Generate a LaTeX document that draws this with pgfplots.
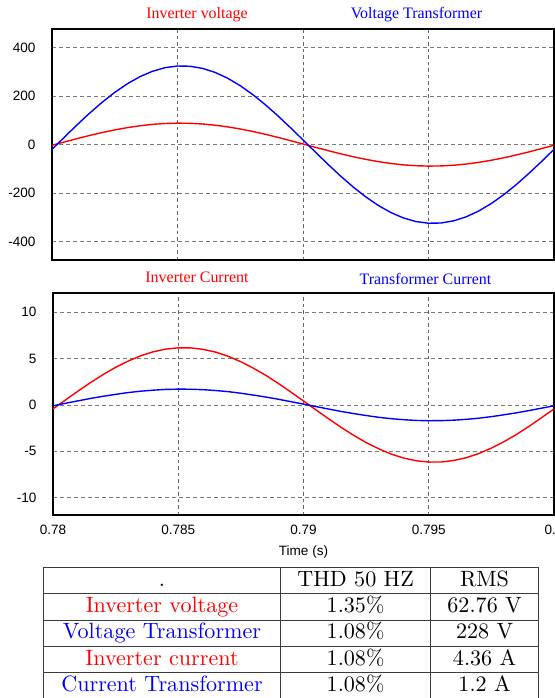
\documentclass[border=0pt]{standalone}
\usepackage{fontspec}
\usepackage{pgfplots}
\usepackage{pgfplotstable}
\pgfplotsset{compat=1.18}

\newfontfamily\arialfont{Liberation Sans}
\newfontfamily\timesfont{Liberation Serif}
\newfontfamily\cmten{lmroman10-regular.otf}

\definecolor{wred}{RGB}{255,0,0}
\definecolor{wblue}{RGB}{0,0,255}
\definecolor{gridgray}{RGB}{120,120,120}
\definecolor{rulegray}{RGB}{60,60,60}

% one period of the 50 Hz waveforms, sampled every 0.5 ms
% t: time (s), vinv/vtr: voltages (V), iinv/itr: currents (A)
\pgfplotstableread{
t       vinv    vtr     iinv    itr
0.7800  -2.7    -19.5   -0.43   -0.09
0.7805  11.2    31.5    0.54    0.18
0.7810  24.8    81.9    1.49    0.44
0.7815  37.9    130.2   2.41    0.70
0.7820  50.0    175.2   3.27    0.93
0.7825  60.9    216.0   4.05    1.14
0.7830  70.2    251.4   4.72    1.33
0.7835  77.9    280.7   5.29    1.48
0.7840  83.7    303.1   5.72    1.59
0.7845  87.3    318.0   6.01    1.67
0.7850  88.8    325.0   6.15    1.70
0.7855  88.1    324.0   6.14    1.69
0.7860  85.3    315.1   5.98    1.64
0.7865  80.3    298.5   5.68    1.55
0.7870  73.4    274.4   5.23    1.43
0.7875  64.7    243.6   4.65    1.26
0.7880  54.4    206.8   3.96    1.06
0.7885  42.7    165.0   3.18    0.85
0.7890  30.0    118.9   2.31    0.61
0.7895  16.4    70.1    1.38    0.35
0.7900  2.7     19.5    0.43    0.09
0.7905  -11.2   -31.5   -0.54   -0.18
0.7910  -24.8   -81.9   -1.49   -0.44
0.7915  -37.9   -130.2  -2.41   -0.70
0.7920  -50.0   -175.2  -3.27   -0.93
0.7925  -60.9   -216.0  -4.05   -1.14
0.7930  -70.2   -251.4  -4.72   -1.33
0.7935  -77.9   -280.7  -5.29   -1.48
0.7940  -83.7   -303.1  -5.72   -1.59
0.7945  -87.3   -318.0  -6.01   -1.67
0.7950  -88.8   -325.0  -6.15   -1.70
0.7955  -88.1   -324.0  -6.14   -1.69
0.7960  -85.3   -315.1  -5.98   -1.64
0.7965  -80.3   -298.5  -5.68   -1.55
0.7970  -73.4   -274.4  -5.23   -1.43
0.7975  -64.7   -243.6  -4.65   -1.26
0.7980  -54.4   -206.8  -3.96   -1.06
0.7985  -42.7   -165.0  -3.18   -0.85
0.7990  -30.0   -118.9  -2.31   -0.61
0.7995  -16.4   -70.1   -1.38   -0.35
0.8000  -2.7    -19.5   -0.43   -0.09
}\waves

\pgfplotsset{
  scope panel/.style={
    scale only axis,
    anchor=north west,
    width=502bp,
    xmin=0.78, xmax=0.8,
    xtick={0.78,0.785,0.79,0.795,0.8},
    xmajorgrids, ymajorgrids,
    x grid style={gridgray!85!black, line width=0.8bp, dash pattern=on 3.5bp off 3bp},
    y grid style={gridgray, line width=0.8bp, dash pattern=on 4bp off 3bp},
    major tick length=0pt,
    axis line style={black, line width=1.3bp},
    /pgf/number format/assume math mode=true,
    ticklabel style={font=\arialfont\fontsize{13.6}{15}\selectfont},
    yticklabel style={anchor=east, xshift=-13bp},
    clip=true,
  },
  wave/.style={line width=1.4bp},
}

\begin{document}
\begin{tikzpicture}
\path[use as bounding box] (0,0) rectangle (555bp,-698bp);

% upper panel: voltages (time axis labelled only on the lower panel)
\begin{axis}[scope panel,
  at={(52bp,-29bp)}, height=231bp,
  ymin=-477, ymax=478,
  ytick={-400,-200,0,200,400},
  yticklabels={-400,-200,0,200,400},
  xticklabels={,,,,},
]
\addplot[wave, wred] table[x=t, y=vinv] {\waves};
\addplot[wave, wblue] table[x=t, y=vtr] {\waves};
\end{axis}

% lower panel: currents
\begin{axis}[scope panel,
  at={(53bp,-293bp)}, width=501bp, height=222bp,
  ymin=-11.85, ymax=12.05,
  ytick={-10,-5,0,5,10},
  yticklabels={-10,-5,0,5,10},
  xticklabels={0.78,0.785,0.79,0.795,0.8},
  xticklabel style={yshift=-7bp},
]
\addplot[wave, wred] table[x=t, y=iinv] {\waves};
\addplot[wave, wblue] table[x=t, y=itr] {\waves};
\end{axis}

% panel captions
\begin{scope}[every node/.style={inner sep=0pt, font=\timesfont\fontsize{16}{18}\selectfont}]
\node[wred]  at (197bp,-15bp)  {Inverter voltage};
\node[wblue] at (416.5bp,-15bp) {Voltage Transformer};
\node[wred]  at (197bp,-277bp) {Inverter Current};
\node[wblue] at (425.5bp,-279bp) {Transformer Current};
\end{scope}
\node[inner sep=0pt, font=\arialfont\fontsize{13.6}{15}\selectfont] at (303.5bp,-552bp) {Time (s)};

% summary table
\begin{scope}[rulegray, line width=0.8bp]
\foreach \y in {567,593.5,620,646.3,672.7}
  \draw (43.3bp,-\y bp) -- (538.5bp,-\y bp);
\foreach \x in {43.3,280.5,430.7,538.5}
  \draw (\x bp,-567bp) -- (\x bp,-698bp);
\end{scope}
\begin{scope}[every node/.style={inner sep=0pt, anchor=base, font=\cmten\fontsize{22.2}{26}\selectfont}]
\node at (162bp,-586bp) {.};
\node at (355.6bp,-586bp) {THD 50 HZ};
\node at (484.6bp,-586bp) {RMS};
\node[wred]  at (162bp,-612.5bp) {Inverter voltage};
\node        at (355.6bp,-612.5bp) {1.35\%};
\node        at (484.6bp,-612.5bp) {62.76 V};
\node[wblue] at (162bp,-638.8bp) {Voltage Transformer};
\node        at (355.6bp,-638.8bp) {1.08\%};
\node        at (484.6bp,-638.8bp) {228 V};
\node[wred]  at (162bp,-665.2bp) {Inverter current};
\node        at (355.6bp,-665.2bp) {1.08\%};
\node        at (484.6bp,-665.2bp) {4.36 A};
\node[wblue] at (162bp,-691.5bp) {Current Transformer};
\node        at (355.6bp,-691.5bp) {1.08\%};
\node        at (484.6bp,-691.5bp) {1.2 A};
\end{scope}
\end{tikzpicture}
\end{document}
